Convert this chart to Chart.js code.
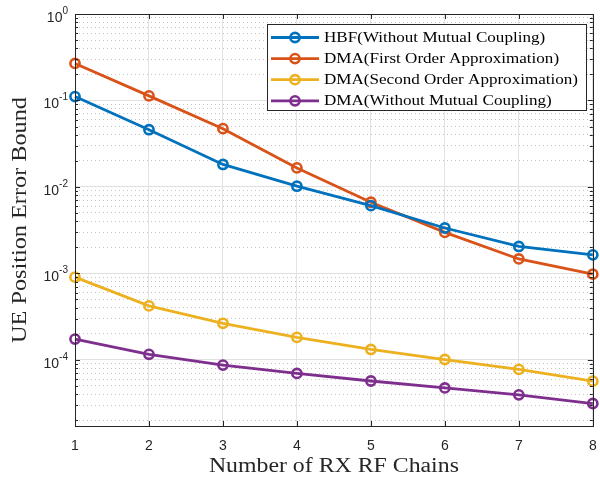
<!DOCTYPE html>
<html>
<head>
<meta charset="utf-8">
<script src="https://cdn.jsdelivr.net/npm/chart.js@4.4.1/dist/chart.umd.min.js"></script>
<style>
html,body{margin:0;padding:0;background:#fff;}
#wrap{width:600px;height:477px;}
</style>
</head>
<body>
<div id="wrap"><canvas id="c" width="600" height="477"></canvas></div>
<script>
// ---- data ----
const chains = [1, 2, 3, 4, 5, 6, 7, 8];
const hbfNoMC   = [0.111, 0.0459, 0.0182, 0.0102, 0.00608, 0.00335, 0.00205, 0.00164];
const dmaFirst  = [0.268, 0.113, 0.0472, 0.0166, 0.00665, 0.00298, 0.00147, 0.00098];
const dmaSecond = [9.06e-4, 4.21e-4, 2.65e-4, 1.82e-4, 1.32e-4, 1.01e-4, 7.76e-5, 5.68e-5];
const dmaNoMC   = [1.74e-4, 1.16e-4, 8.7e-5, 6.97e-5, 5.7e-5, 4.74e-5, 3.94e-5, 3.13e-5];
const seriesNames = [
  'HBF(Without Mutual Coupling)',
  'DMA(First Order Approximation)',
  'DMA(Second Order Approximation)',
  'DMA(Without Mutual Coupling)'
];
const decadeExps = [0, -1, -2, -3, -4];
const yMin = 1.72e-5, yMax = 1;
const xTitle = 'Number of RX RF Chains';
const yTitle = 'UE Position Error Bound';

const colors = ['#0072BD', '#D95319', '#EDB120', '#7E2F8E'];
const allSeries = [hbfNoMC, dmaFirst, dmaSecond, dmaNoMC];

const datasets = allSeries.map((s, i) => ({
  label: seriesNames[i],
  data: chains.map((x, j) => ({x: x, y: s[j]})),
  borderColor: colors[i],
  backgroundColor: colors[i],
  borderWidth: 2.8,
  pointRadius: 4.6,
  pointBorderWidth: 2.6,
  pointBackgroundColor: 'rgba(0,0,0,0)',
  pointBorderColor: colors[i],
  pointStyle: 'circle',
  tension: 0,
  clip: false
}));

function isDecade(v) {
  const l = Math.log10(v);
  return Math.abs(l - Math.round(l)) < 1e-6;
}

const decor = {
  id: 'decor',
  afterDraw(chart) {
    const ctx = chart.ctx;
    const a = chart.chartArea;
    const xs = chart.scales.x, ys = chart.scales.y;
    ctx.save();
    // box
    ctx.strokeStyle = '#262626';
    ctx.lineWidth = 1;
    ctx.strokeRect(Math.round(a.left) + 0.5, Math.round(a.top) + 0.5,
                   Math.round(a.right - a.left), Math.round(a.bottom - a.top));
    // x ticks (inward)
    ctx.beginPath();
    chains.forEach(v => {
      const px = Math.round(xs.getPixelForValue(v)) + 0.5;
      ctx.moveTo(px, a.bottom); ctx.lineTo(px, a.bottom - 5);
      ctx.moveTo(px, a.top); ctx.lineTo(px, a.top + 5);
    });
    // y ticks (inward)
    ys.ticks.forEach(t => {
      const py = Math.round(ys.getPixelForValue(t.value)) + 0.5;
      const len = isDecade(t.value) ? 5 : 3;
      ctx.moveTo(a.left, py); ctx.lineTo(a.left + len, py);
      ctx.moveTo(a.right, py); ctx.lineTo(a.right - len, py);
    });
    ctx.stroke();

    // y tick labels with superscript
    ctx.fillStyle = '#262626';
    ctx.textBaseline = 'middle';
    decadeExps.forEach(e => {
      const py = ys.getPixelForValue(Math.pow(10, e));
      const sup = String(e);
      ctx.font = '10px "Liberation Sans", Arial, sans-serif';
      const sw = ctx.measureText(sup).width;
      ctx.textAlign = 'left';
      ctx.fillText(sup, 68 - sw, py - 3);
      ctx.font = '14px "Liberation Sans", Arial, sans-serif';
      ctx.textAlign = 'right';
      ctx.fillText('10', 68 - sw, py + 4);
    });

    // axis titles
    ctx.fillStyle = '#262626';
    ctx.font = '20px "Liberation Serif", "Times New Roman", serif';
    ctx.textAlign = 'left';
    ctx.textBaseline = 'alphabetic';
    {
      const w = ctx.measureText(xTitle).width;
      const target = 250;
      const cx = (a.left + a.right) / 2;
      ctx.save();
      ctx.translate(cx - target / 2, 472);
      ctx.scale(target / w, 1);
      ctx.fillText(xTitle, 0, 0);
      ctx.restore();
    }
    {
      const w = ctx.measureText(yTitle).width;
      const target = 246;
      const cy = (a.top + a.bottom) / 2;
      ctx.save();
      ctx.translate(26, cy + target / 2);
      ctx.rotate(-Math.PI / 2);
      ctx.scale(target / w, 1);
      ctx.fillText(yTitle, 0, 0);
      ctx.restore();
    }

    // legend
    const lx0 = 267, ly0 = 24, lx1 = 586, ly1 = 110;
    ctx.fillStyle = '#ffffff';
    ctx.fillRect(lx0, ly0, lx1 - lx0, ly1 - ly0);
    ctx.strokeStyle = '#262626';
    ctx.lineWidth = 1;
    ctx.strokeRect(lx0 + 0.5, ly0 + 0.5, lx1 - lx0, ly1 - ly0);
    ctx.font = '15px "Liberation Serif", "Times New Roman", serif';
    const refW = ctx.measureText(seriesNames[2]).width;
    const sx = 254 / refW;
    chart.data.datasets.forEach((ds, i) => {
      const ry = 37.5 + 21.1 * i;
      ctx.strokeStyle = ds.borderColor;
      ctx.lineWidth = 2.8;
      ctx.beginPath();
      ctx.moveTo(271, ry); ctx.lineTo(319, ry);
      ctx.stroke();
      ctx.lineWidth = 2.6;
      ctx.beginPath();
      ctx.arc(295, ry, 4.6, 0, Math.PI * 2);
      ctx.stroke();
      ctx.fillStyle = '#000000';
      ctx.textAlign = 'left';
      ctx.textBaseline = 'middle';
      ctx.save();
      ctx.translate(324, ry + 0.5);
      ctx.scale(sx, 1);
      ctx.fillText(ds.label, 0, 0);
      ctx.restore();
    });
    ctx.restore();
  }
};

new Chart(document.getElementById('c'), {
  type: 'line',
  data: { datasets: datasets },
  options: {
    responsive: false,
    animation: false,
    devicePixelRatio: 1,
    layout: { padding: { left: 0, right: 4, top: 14, bottom: 0 } },
    plugins: { legend: { display: false }, tooltip: { enabled: false } },
    scales: {
      x: {
        type: 'linear',
        min: 1, max: 8,
        afterFit(scale) { scale.height = 51; scale.paddingLeft = 0; scale.paddingRight = 0; },
        afterBuildTicks(scale) { scale.ticks = chains.map(v => ({value: v})); },
        ticks: {
          stepSize: 1,
          color: '#262626',
          font: { family: '"Liberation Sans", Arial, sans-serif', size: 14 },
          padding: 12,
          maxRotation: 0
        },
        grid: { color: '#e3e3e3', lineWidth: 1, drawTicks: false, tickLength: 0 },
        border: { display: false }
      },
      y: {
        type: 'logarithmic',
        min: yMin, max: yMax,
        afterFit(scale) { scale.width = 75; scale.paddingTop = 0; scale.paddingBottom = 0; },
        afterBuildTicks(scale) {
          const t = [];
          for (let e = -5; e <= 0; e++) {
            for (let m = 1; m <= 9; m++) {
              const v = m * Math.pow(10, e);
              if (v >= yMin * 0.999 && v <= yMax * 1.001) t.push({value: v});
            }
          }
          scale.ticks = t;
        },
        ticks: { display: false },
        grid: {
          drawTicks: false,
          tickLength: 0,
          lineWidth: 1,
          color: (c) => (c.tick && isDecade(c.tick.value)) ? '#e0e0e0' : '#c4c4c4'
        },
        border: {
          display: false,
          dash: (c) => (c.tick && isDecade(c.tick.value)) ? [] : [1, 3]
        }
      }
    }
  },
  plugins: [decor]
});
</script>
</body>
</html>
